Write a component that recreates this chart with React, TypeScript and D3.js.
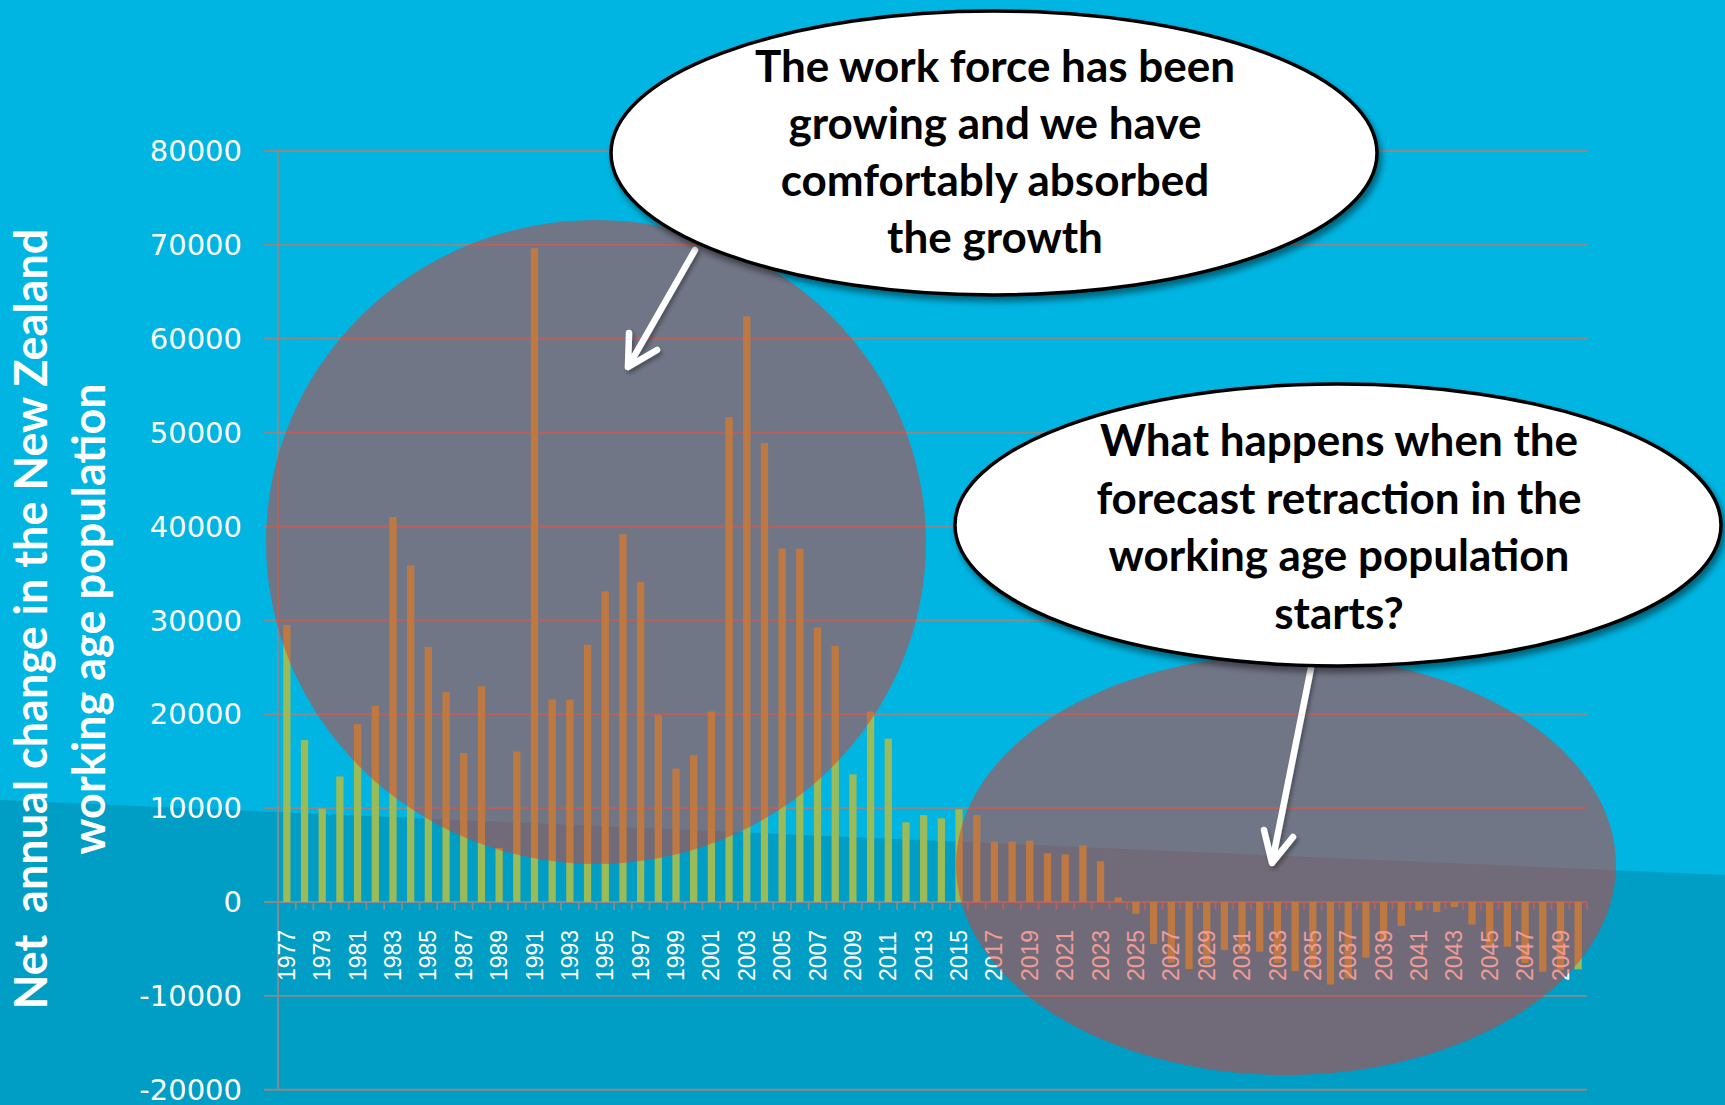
import React from 'react';
import * as d3 from 'd3';

const years: number[] = [
  1977, 1978, 1979, 1980, 1981, 1982, 1983, 1984, 1985, 1986, 1987, 1988, 1989, 1990,
  1991, 1992, 1993, 1994, 1995, 1996, 1997, 1998, 1999, 2000, 2001, 2002, 2003, 2004,
  2005, 2006, 2007, 2008, 2009, 2010, 2011, 2012, 2013, 2014, 2015, 2016, 2017, 2018,
  2019, 2020, 2021, 2022, 2023, 2024, 2025, 2026, 2027, 2028, 2029, 2030, 2031, 2032,
  2033, 2034, 2035, 2036, 2037, 2038, 2039, 2040, 2041, 2042, 2043, 2044, 2045, 2046,
  2047, 2048, 2049, 2050,
];

const netChange: number[] = [
  29500, 17250, 9950, 13370, 18940, 20900, 41000, 35860, 27160, 22360, 15870, 22970, 5760, 16020,
  69640, 21550, 21550, 27390, 33080, 39180, 34110, 19900, 14210, 15640, 20280, 51650, 62380, 48900,
  37650, 37650, 29240, 27280, 13600, 20280, 17400, 8490, 9260, 8910, 9870, 9260, 6420, 6420,
  6530, 5190, 5070, 6030, 4340, 500, -1250, -4460, -6460, -7140, -6600, -5110, -5500, -5290,
  -6500, -7360, -7070, -8790, -8140, -5930, -4040, -2540, -890, -1070, -540, -2390, -4600, -4750,
  -6500, -7430, -7250, -7180,
];

const yTicks: number[] = [80000, 70000, 60000, 50000, 40000, 30000, 20000, 10000, 0, -10000, -20000];

const titleLines: string[] = ['Net  annual change in the New Zealand', 'working age population'];
const calloutPast: string[] = ['The work force has been', 'growing and we have', 'comfortably absorbed', 'the growth'];
const calloutFuture: string[] = ['What happens when the', 'forecast retraction in the', 'working age population', 'starts?'];

const W = 1725;
const H = 1105;
const X0 = 278;
const X1 = 1587;
const Y_TOP = 151;
const Y_ZERO = 902;

export default function App() {
  const x = d3.scaleBand<number>().domain(years).range([X0, X1]).paddingInner(0.59).paddingOuter(0.295);
  const y = d3
    .scaleLinear()
    .domain([0, 80000])
    .range([Y_ZERO, Y_TOP]);
  const step = x.step();
  const boundaries = d3.range(years.length + 1).map((i) => X0 + i * step);

  const gridColor = '#8a8a8a';
  const barColor = '#9BBB59';

  const arrowPath1 = 'M695,250 L628,367 M629,333 L628,367 L657,350';
  const arrowPath2 = 'M1311,668 L1272,863 M1264,830 L1272,863 L1293,837';

  return (
    <svg
      width={W}
      height={H}
      viewBox={`0 0 ${W} ${H}`}
      style={{ position: 'absolute', left: 0, top: 0, display: 'block' }}
    >
      <defs>
        <filter id="shadow" x="-10%" y="-10%" width="125%" height="130%">
          <feDropShadow dx="3" dy="5" stdDeviation="3" floodColor="#000" floodOpacity="0.45" />
        </filter>
        <filter id="ashadow" x="-30%" y="-30%" width="160%" height="160%">
          <feDropShadow dx="2" dy="3" stdDeviation="2" floodColor="#000" floodOpacity="0.35" />
        </filter>
      </defs>

      {/* background */}
      <rect x={0} y={0} width={W} height={H} fill="#00B5E2" />
      <path d={`M0,800 L${W},875 L${W},${H} L0,${H} Z`} fill="#009DC4" />

      {/* gridlines */}
      {yTicks.map((t) => (
        <line key={t} x1={264} x2={X1} y1={y(t)} y2={y(t)} stroke={gridColor} strokeWidth={1.8} />
      ))}
      {/* vertical axis */}
      <line x1={X0} x2={X0} y1={y(80000)} y2={y(-20000)} stroke={gridColor} strokeWidth={1.8} />
      {/* category ticks */}
      {boundaries.map((bx, i) => (
        <line key={i} x1={bx} x2={bx} y1={Y_ZERO} y2={Y_ZERO + 8} stroke={gridColor} strokeWidth={1.8} />
      ))}

      {/* bars */}
      {years.map((yr, i) => {
        const v = netChange[i];
        const y0 = y(Math.max(0, v));
        const y1 = y(Math.min(0, v));
        return <rect key={yr} x={x(yr)} y={y0} width={x.bandwidth()} height={y1 - y0} fill={barColor} />;
      })}

      {/* x labels */}
      {years
        .filter((yr, i) => i % 2 === 0)
        .map((yr) => (
          <text
            key={yr}
            transform={`translate(${(x(yr) as number) + x.bandwidth() / 2},981) rotate(-90)`}
            dy="0.35em"
            fill="#fff"
            fontFamily="'Liberation Sans', Arial, sans-serif"
            fontSize={23}
            textAnchor="start"
          >
            {yr}
          </text>
        ))}

      {/* y labels */}
      {yTicks.map((t) => (
        <text
          key={t}
          x={242}
          y={y(t)}
          dy="0.35em"
          fill="#fff"
          fontFamily="'DejaVu Sans', Verdana, sans-serif"
          fontSize={29}
          textAnchor="end"
        >
          {t}
        </text>
      ))}

      {/* y title */}
      {titleLines.map((line, i) => (
        <text
          key={i}
          transform={`translate(${47 + i * 58},619) rotate(-90)`}
          fill="#fff"
          fontFamily="Lato, 'Open Sans', sans-serif"
          fontWeight={700}
          fontSize={45}
          textAnchor="middle"
          style={{ whiteSpace: 'pre' }}
        >
          {line}
        </text>
      ))}

      {/* highlight ellipses (translucent red, appears grey over blue) */}
      <ellipse cx={596} cy={542} rx={330} ry={322} fill="#E2372C" fillOpacity={0.5} />
      <ellipse cx={1286} cy={865} rx={330} ry={210} fill="#E2372C" fillOpacity={0.5} />

      {/* arrows */}
      <path d={arrowPath1} fill="none" stroke="#fff" strokeWidth={6.5} strokeLinecap="round" strokeLinejoin="round" filter="url(#ashadow)" />
      <path d={arrowPath2} fill="none" stroke="#fff" strokeWidth={6.5} strokeLinecap="round" strokeLinejoin="round" filter="url(#ashadow)" />

      {/* callouts */}
      <ellipse cx={994} cy={153} rx={383} ry={142} fill="#fff" stroke="#000" strokeWidth={3.5} filter="url(#shadow)" />
      {calloutPast.map((line, i) => (
        <text
          key={i}
          x={995}
          y={82 + i * 57}
          fill="#000"
          fontFamily="Lato, 'Open Sans', sans-serif"
          fontWeight={700}
          fontSize={44}
          textAnchor="middle"
        >
          {line}
        </text>
      ))}
      <ellipse cx={1338} cy={525} rx={383} ry={141} fill="#fff" stroke="#000" strokeWidth={3.5} filter="url(#shadow)" />
      {calloutFuture.map((line, i) => (
        <text
          key={i}
          x={1339}
          y={456 + i * 57.5}
          fill="#000"
          fontFamily="Lato, 'Open Sans', sans-serif"
          fontWeight={700}
          fontSize={44}
          textAnchor="middle"
        >
          {line}
        </text>
      ))}
    </svg>
  );
}
